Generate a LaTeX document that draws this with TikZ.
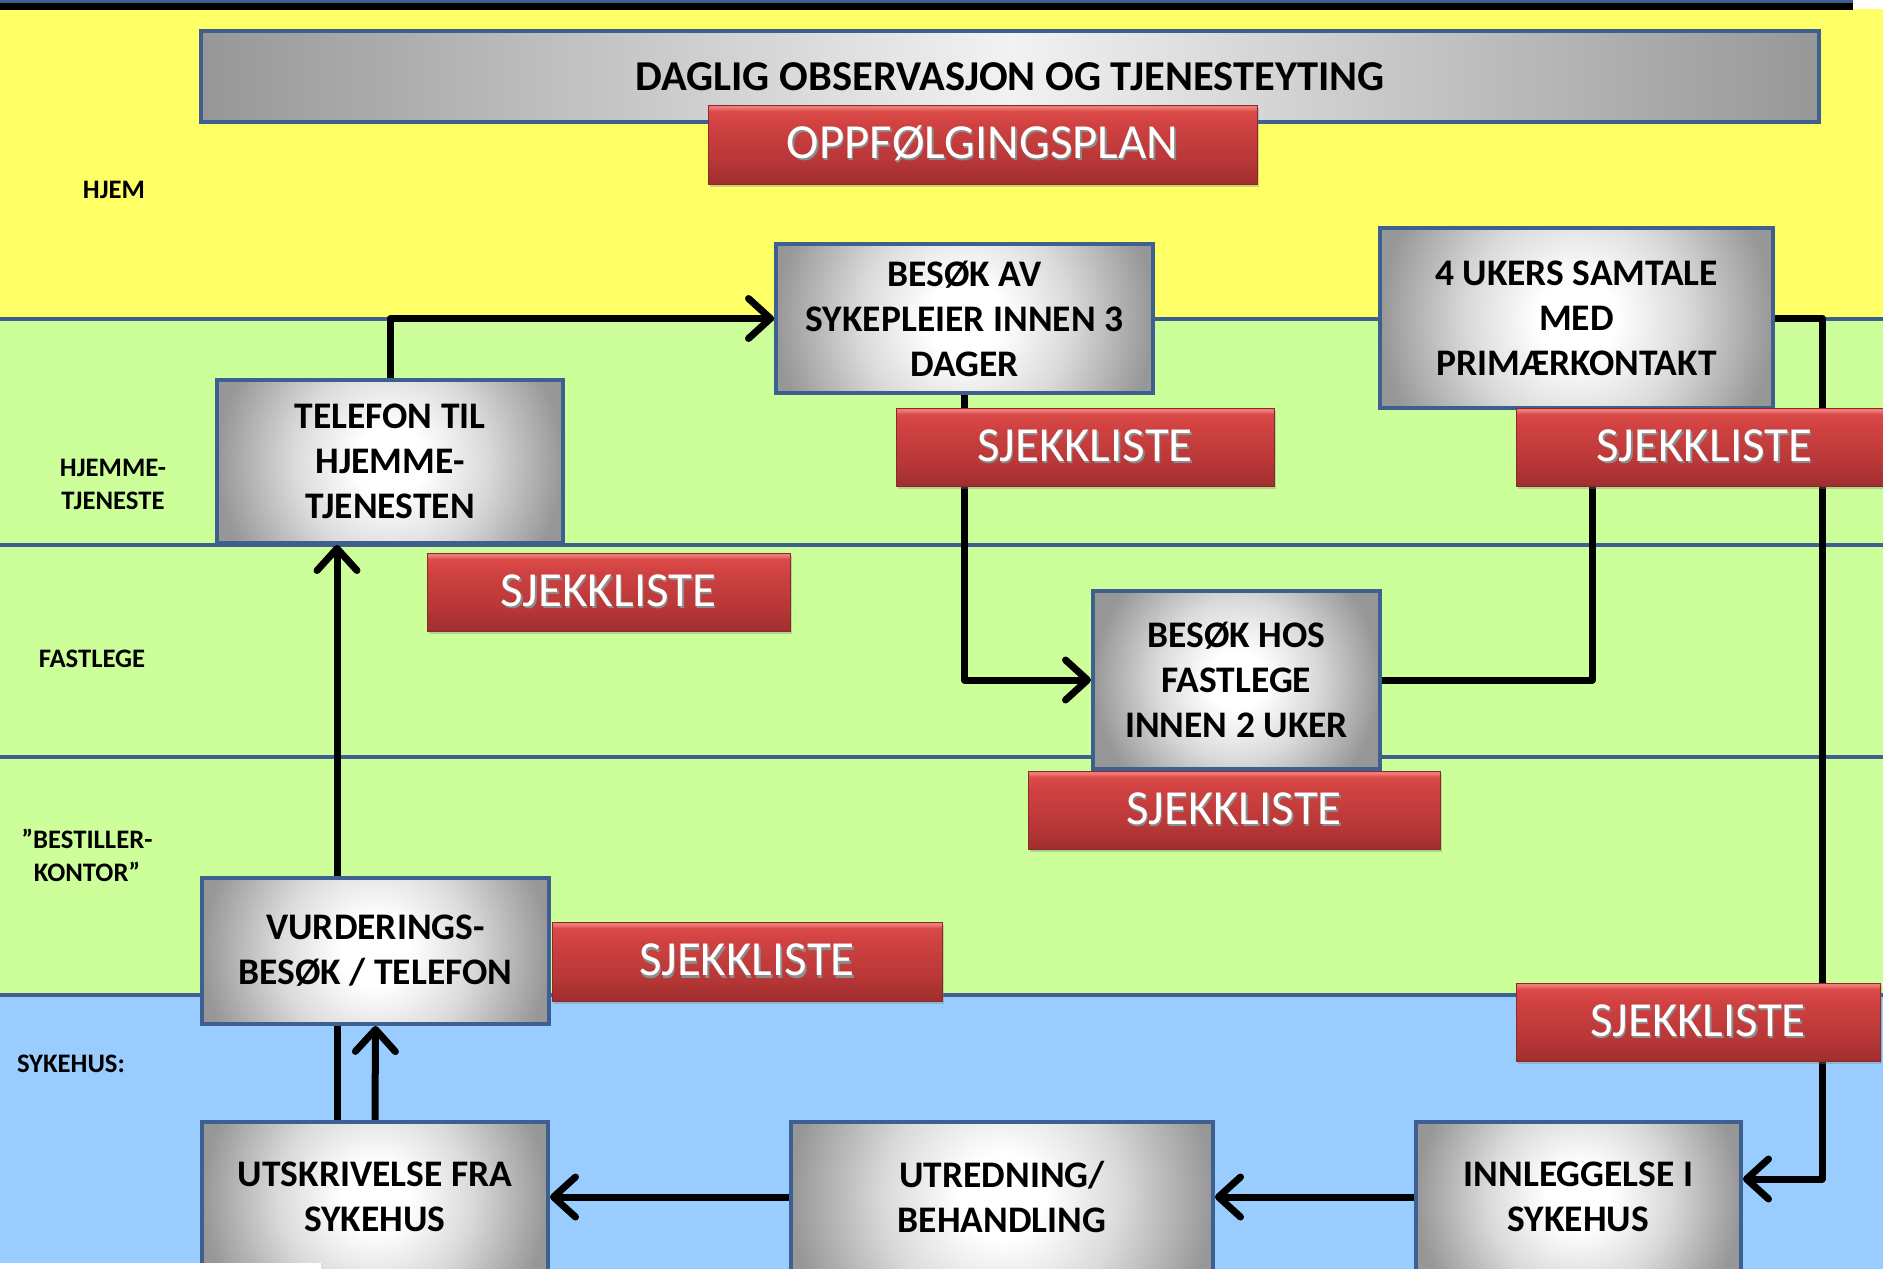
\documentclass[tikz,border=0pt]{standalone}
\usepackage{fontspec}
\setmainfont{Carlito}
\usetikzlibrary{arrows.meta,shadows,calc}
\definecolor{yel}{HTML}{FFFF66}
\definecolor{grn}{HTML}{CCFF99}
\definecolor{sky}{HTML}{99CCFF}
\definecolor{lineblue}{HTML}{3D6090}
\definecolor{gedge}{HTML}{979797}
\definecolor{glight}{HTML}{DADADA}
\definecolor{gmid}{HTML}{F2F2F2}
\definecolor{rbot}{HTML}{A02E2E}
\definecolor{rlow}{HTML}{B83737}
\definecolor{rmid}{HTML}{CF4141}
\definecolor{rtop}{HTML}{DA4A48}
\definecolor{rhi}{HTML}{F07A78}
\definecolor{redge}{HTML}{8A2A2A}
\pgfdeclareradialshading{grayball}{\pgfpoint{0bp}{0bp}}{color(0bp)=(white); color(5bp)=(white); color(14bp)=(glight); color(25bp)=(gedge); color(50bp)=(gedge)}
\pgfdeclarehorizontalshading{grayhoriz}{100bp}{color(0bp)=(gedge); color(25bp)=(gedge); color(50bp)=(gmid); color(75bp)=(gedge); color(100bp)=(gedge)}
\pgfdeclareverticalshading{redgrad}{100bp}{color(0bp)=(rbot); color(25bp)=(rbot); color(40bp)=(rlow); color(62bp)=(rmid); color(71bp)=(rtop); color(73.5bp)=(rhi); color(75bp)=(rhi); color(100bp)=(rhi)}
\newcommand{\embtext}[1]{\makebox[0pt][l]{\kern1.5pt\raisebox{-2.5pt}{\color{black!45}#1}}#1}
\pgfdeclarelayer{bg}
\pgfdeclarelayer{lines}
\pgfsetlayers{bg,lines,main}
\tikzset{
  gbox/.style={draw=lineblue, line width=4pt, fill=gedge, inner sep=0pt, align=center,
    font=\fontsize{37.5}{45}\selectfont\bfseries, text=black,
    path picture={\shade[shading=grayball] let \p1=(path picture bounding box.east), \p2=(path picture bounding box.center) in (\p2) circle ({\x1-\x2});}},
  rbox/.style={draw=redge, line width=0.8pt, shade, shading=redgrad, inner sep=0pt, align=center,
    text=white, font=\fontsize{49}{52}\selectfont,
    drop shadow={shadow xshift=2pt, shadow yshift=-3pt, opacity=0.35}},
  lab/.style={font=\fontsize{26.7}{33}\selectfont\bfseries, align=center, inner sep=0pt},
  conn/.style={line width=7pt, line join=round, draw=black},
  arr/.style={conn, -{Straight Barb[length=22pt, width=40pt, line cap=round, line join=round]}},
  band/.style={draw=lineblue, line width=4pt},
}
\begin{document}
\begin{tikzpicture}[x=1pt, y=-1pt]
\useasboundingbox (0,0) rectangle (1883,1269);
\begin{pgfonlayer}{bg}
  \fill[white] (0,0) rectangle (1883,1269);
  \fill[yel] (0,9) rectangle (1883,319);
  \fill[grn] (0,319) rectangle (1883,995);
  \fill[sky] (0,995) rectangle (1883,1269);
  \fill[black] (0,0) rectangle (1853,10);
  \fill[lineblue] (0,0) rectangle (1853,3);
  \draw[band] (0,319) -- (1883,319);
  \draw[band] (0,545) -- (1883,545);
  \draw[band] (0,757) -- (1883,757);
  \draw[band] (0,995) -- (1883,995);
\end{pgfonlayer}

% lane labels
\node[lab] (lhjem) at (114,190) {HJEM};
\node[lab] (lhjt) at (113,484) {HJEMME-\\TJENESTE};
\node[lab] (lfast) at (92,659) {FASTLEGE};
\node[lab] (lbest) at (87,855) {”BESTILLER-\\KONTOR”};
\node[lab] (lsyk) at (71,1064) {SYKEHUS:};

% header
\node[draw=lineblue, line width=4pt, shade, shading=grayhoriz, inner sep=0pt,
  minimum width=1618pt, minimum height=91pt, font=\fontsize{42.5}{44}\selectfont\bfseries]
  (head) at (1010,76.5) {DAGLIG OBSERVASJON OG TJENESTEYTING};
\node[rbox, minimum width=549pt, minimum height=79pt]
  (oppf) at (982.5,144.5) {\embtext{OPPFØLGINGSPLAN}};

% grey process boxes
\node[gbox, minimum width=377pt, minimum height=149pt] (besok) at (964.5,318.5) {BESØK AV\\SYKEPLEIER INNEN 3\\DAGER};
\node[gbox, minimum width=393pt, minimum height=180pt] (ukers) at (1576.5,318) {4 UKERS SAMTALE\\MED\\PRIMÆRKONTAKT};
\node[gbox, minimum width=346pt, minimum height=163pt] (tel) at (390,461.5) {TELEFON TIL\\HJEMME-\\TJENESTEN};
\node[gbox, minimum width=287pt, minimum height=178pt] (fast) at (1236.5,680) {BESØK HOS\\FASTLEGE\\INNEN 2 UKER};
\node[gbox, minimum width=347pt, minimum height=146pt] (vurd) at (375.5,951) {VURDERINGS-\\BESØK / TELEFON};
\node[gbox, minimum width=346pt, minimum height=150pt] (utsk) at (375,1197) {UTSKRIVELSE FRA\\SYKEHUS};
\node[gbox, minimum width=422pt, minimum height=150pt] (utred) at (1002,1197) {UTREDNING/\\BEHANDLING};
\node[gbox, minimum width=325pt, minimum height=150pt] (innl) at (1578.5,1197) {INNLEGGELSE I\\SYKEHUS};

% checklists
\node[rbox, minimum width=378pt, minimum height=78pt] (sjA) at (1085,447) {\embtext{SJEKKLISTE}};
\node[rbox, minimum width=377pt, minimum height=78pt] (sjB) at (1704.5,447) {\embtext{SJEKKLISTE}};
\node[rbox, minimum width=363pt, minimum height=78pt] (sjC) at (608.5,592) {\embtext{SJEKKLISTE}};
\node[rbox, minimum width=412pt, minimum height=78pt] (sjD) at (1234,810) {\embtext{SJEKKLISTE}};
\node[rbox, minimum width=390pt, minimum height=79pt] (sjE) at (747,961.5) {\embtext{SJEKKLISTE}};
\node[rbox, minimum width=364pt, minimum height=78pt] (sjF) at (1698,1022) {\embtext{SJEKKLISTE}};

% connectors
\coordinate (fe) at (1592,470);
\coordinate (rt) at (1822,318);
\coordinate (ul) at ([xshift=-38pt]utsk.north);
\begin{pgfonlayer}{lines}
  \draw[arr] (tel.north) |- (besok.west);
  \draw[arr] (besok.south) |- (fast.west);
  \draw[conn] (fast.east) -| (fe);
  \draw[arr] (ukers.east) -- (rt) |- ([yshift=18pt]innl.east);
  \draw[arr] (innl.west) -- (utred.east);
  \draw[arr] (utred.west) -- (utsk.east);
  \draw[arr] (utsk.north) -- (vurd.south);
  \draw[arr] (ul) -- (ul |- tel.south);
\end{pgfonlayer}

\fill[white] (0,1263) rectangle (321,1269);
\end{tikzpicture}
\end{document}
